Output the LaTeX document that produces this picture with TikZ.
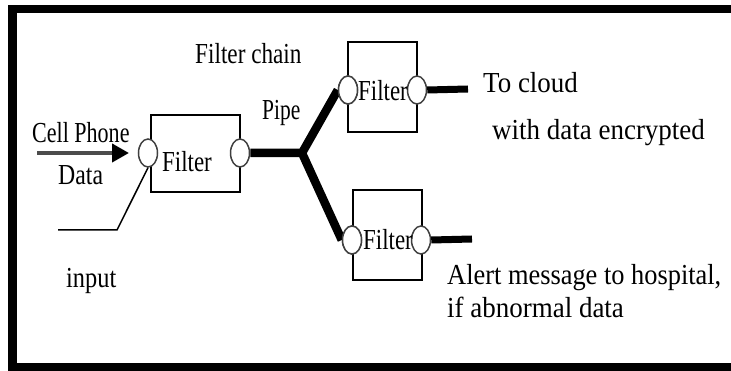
\documentclass[tikz,border=0pt]{standalone}
\usepackage{fontspec}
\setmainfont{Liberation Serif}
\usetikzlibrary{shapes.geometric,arrows.meta}
\tikzset{
  x=1pt, y=-1pt,
  lbl/.style={inner sep=0pt, anchor=base west, font=\fontsize{29}{34}\selectfont},
  fbox/.style={draw, line width=1.8pt, inner sep=0pt, minimum width=#1, minimum height=78pt},
  port/.style={ellipse, draw=black!75, line width=1.5pt, fill=white, minimum width=19pt, minimum height=28pt, inner sep=0pt},
  pipe/.style={line width=8.5pt, line join=round},
  outpipe/.style={line width=7pt},
  thin/.style={line width=1.5pt}
}
\newcommand{\sx}[2]{\scalebox{#1}[1]{#2}}
\begin{document}
\begin{tikzpicture}
\useasboundingbox (0,0) rectangle (731,371);
% frame (left, top and bottom bars)
\fill[black] (8,5) rectangle (731,13);
\fill[black] (8,5) rectangle (17,371);
\fill[black] (8,363) rectangle (731,371);

% filter boxes
\node[fbox=89pt, minimum height=77pt] (f1) at (195.5,153.5) {};
\node[fbox=69pt, minimum height=90pt] (f2) at (382.5,87) {};
\node[fbox=69pt, minimum height=90pt] (f3) at (387.5,235) {};

% pipes between filters
\coordinate (j) at (302,153);
\node[port] (p1o) at (240,153) {};
\node[port] (p2i) at (348,90) {};
\node[port] (p3i) at (352,240) {};
\draw[pipe] (p1o.east) -- (j) -- (p2i.west);
\draw[pipe] (j) -- (p3i.west);
\node[port] at (p2i) {};
\node[port] at (p3i) {};

% ports
\node[port] (p1i) at (148,153) {};
\node[port] (p2o) at (417,90) {};
\node[port] (p3o) at (421,240) {};

% filter labels
\node[lbl] (t1) at (162,172) {\sx{0.79}{Filter}};
\node[lbl] (t2) at (358,101) {\sx{0.79}{Filter}};
\node[lbl] (t3) at (363,250) {\sx{0.79}{Filter}};

% outputs
\coordinate (o2) at (468,89);
\coordinate (o3) at (472,239);
\draw[outpipe] (p2o.east) -- (o2);
\draw[outpipe] (p3o.east) -- (o3);

% cell phone data arrow
\coordinate (a0) at (37,153);
\coordinate (a1) at (129,153);
\draw[line width=4pt, black!70, -{Triangle[length=17pt,width=18pt,black]}] (a0) -- (a1);

% input line
\coordinate (i0) at (58,230);
\coordinate (i1) at (117,230);
\draw[thin] (i0) -- (i1) -- (p1i.south);

% texts
\node[lbl] (fc) at (195,64) {\sx{0.8}{Filter chain}};
\node[lbl] (pp) at (262,120) {\sx{0.74}{Pipe}};
\node[lbl] (cp) at (32,143) {\sx{0.76}{Cell Phone}};
\node[lbl] (da) at (58,185) {\sx{0.82}{Data}};
\node[lbl] (in) at (66,288) {\sx{0.84}{input}};
\node[lbl] (tc) at (483,93) {\sx{0.93}{To cloud}};
\node[lbl] (we) at (492,140) {\sx{0.93}{with data encrypted}};
\node[lbl] (am) at (447,285) {\sx{0.91}{Alert message to hospital,}};
\node[lbl] (ab) at (447,318) {\sx{0.93}{if abnormal data}};
\end{tikzpicture}
\end{document}
